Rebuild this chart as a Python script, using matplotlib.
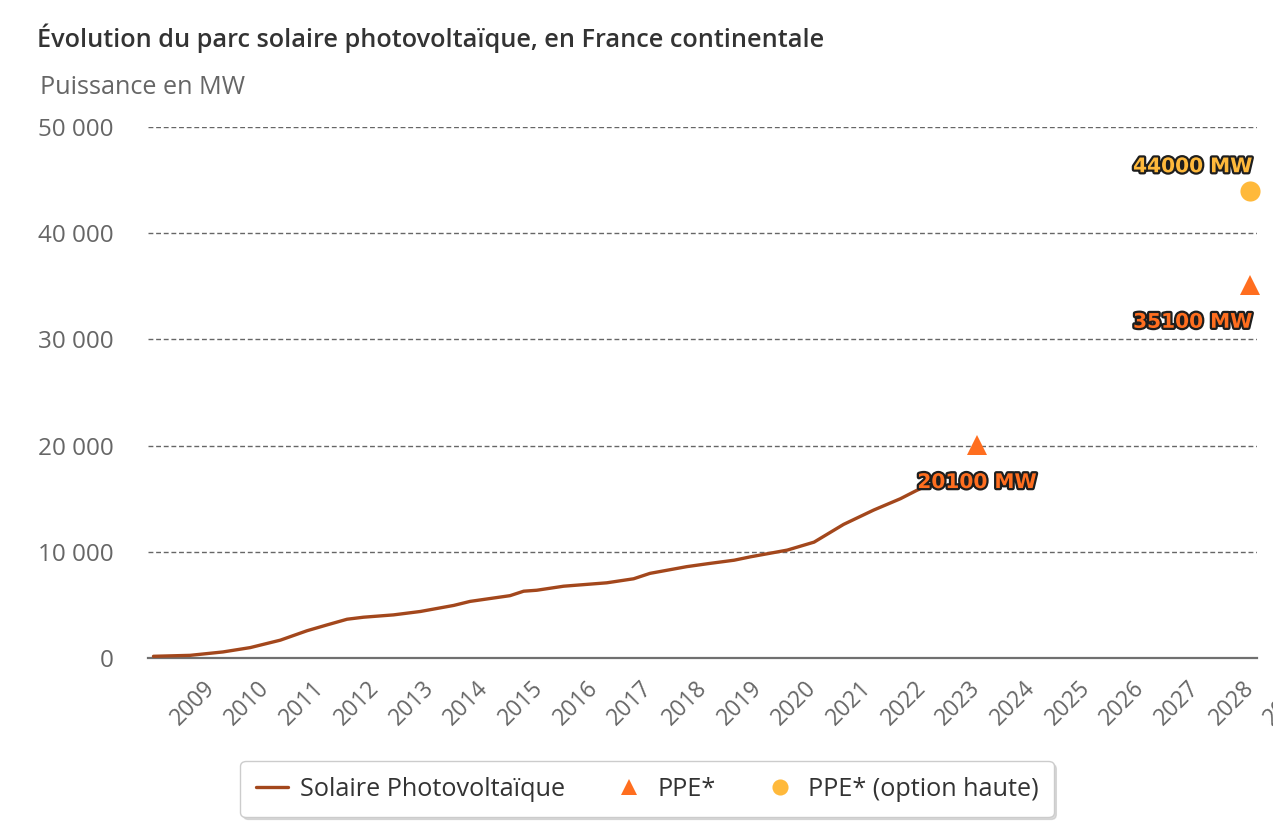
import matplotlib
matplotlib.use("Agg")
import matplotlib.pyplot as plt
import matplotlib.patheffects as pe
import numpy as np

# ---------------- data ----------------
pv_years = [2007.94, 2008.61, 2009.21, 2009.71, 2010.26, 2010.75, 2011.11, 2011.48,
            2011.78, 2012.33, 2012.82, 2013.43, 2013.73, 2014.46, 2014.71, 2014.95,
            2015.44, 2016.23, 2016.72, 2017.02, 2017.69, 2018.09, 2018.56, 2018.86,
            2019.53, 2020.02, 2020.56, 2021.11, 2021.60, 2021.90, 2022.05]
pv_values = [160, 250, 570, 980, 1680, 2570, 3110, 3650,
             3840, 4060, 4380, 4950, 5330, 5870, 6290, 6380,
             6760, 7080, 7460, 7970, 8600, 8890, 9210, 9530,
             10160, 10910, 12580, 13930, 15000, 15790, 16150]

ppe_years = [2023, 2028]
ppe_values = [20100, 35100]
ppe_haute_years = [2028]
ppe_haute_values = [44000]

tick_years = list(range(2009, 2029))
y_ticks = [0, 10000, 20000, 30000, 40000, 50000]
y_tick_labels = ["0", "10 000", "20 000", "30 000", "40 000", "50 000"]

title = "Évolution du parc solaire photovoltaïque, en France continentale"
y_title = "Puissance en MW"
legend_labels = ["Solaire Photovoltaïque", "PPE*", "PPE* (option haute)"]

# ---------------- style ----------------
C_LINE = "#A3471C"
C_TRI = "#FF6E1F"
C_CIRC = "#FFB93B"
C_GRID = "#666666"
C_TXT = "#666666"

W, H = 1273, 831
fig = plt.figure(figsize=(W / 100, H / 100), dpi=100)
ax = fig.add_axes([148 / W, 1 - 658 / H, (1257 - 148) / W, (658 - 127) / H])

ax.set_xlim(2007.84, 2028.12)
ax.set_ylim(0, 50000)

for s in ["top", "right", "left"]:
    ax.spines[s].set_visible(False)
ax.spines["bottom"].set_color("#707070")
ax.spines["bottom"].set_linewidth(1.6)

ax.set_yticks(y_ticks)
ax.set_yticklabels(y_tick_labels, fontfamily="Open Sans", fontsize=17.5, color=C_TXT)
ax.tick_params(axis="y", length=0, pad=24.5)
for t in y_ticks[1:]:
    ax.axhline(t, color=C_GRID, linestyle=(0, (3.5, 2)), linewidth=1.0, zorder=0)

XT_SIZE = 16.5
XT_PAD = 19
ax.set_xticks(tick_years)
ax.set_xticklabels([str(y) for y in tick_years], fontfamily="Open Sans", fontsize=XT_SIZE,
                   color=C_TXT)
ax.tick_params(axis="x", length=0, pad=XT_PAD)
for lab in ax.get_xticklabels():
    lab.set_rotation(45)
    lab.set_ha("right")
    lab.set_va("center")
    lab.set_rotation_mode("anchor")
# partially visible 2029 label at the right edge (cut by the image border as in the original)
ax.annotate("2029", xy=(2029, 0), xycoords=("data", "axes fraction"),
            xytext=(0, -XT_PAD * 100 / 72), textcoords="offset pixels",
            rotation=45, ha="right", va="center", rotation_mode="anchor",
            fontfamily="Open Sans", fontsize=XT_SIZE, color=C_TXT, annotation_clip=False)

# series
l1, = ax.plot(pv_years, pv_values, color=C_LINE, linewidth=2.4, solid_capstyle="round",
              zorder=3, label=legend_labels[0])
l2, = ax.plot(ppe_years, ppe_values, linestyle="none", marker="^", markersize=15,
              color=C_TRI, markeredgewidth=0, zorder=4, label=legend_labels[1], clip_on=False)
l3, = ax.plot(ppe_haute_years, ppe_haute_values, linestyle="none", marker="o",
              markersize=14.5, color=C_CIRC, markeredgewidth=0, zorder=4,
              label=legend_labels[2], clip_on=False)

stroke = [pe.withStroke(linewidth=3.2, foreground="#1e1e1e")]
lab_kw = dict(fontfamily="DejaVu Sans", fontweight="bold", fontsize=14.5,
              textcoords="offset pixels", path_effects=stroke, zorder=6,
              annotation_clip=False)
# 20100 MW under triangle 2023
ax.annotate(f"{ppe_values[0]} MW", xy=(ppe_years[0], ppe_values[0]), xytext=(0, -38),
            ha="center", va="center", color=C_TRI, **lab_kw)
# 35100 MW under triangle 2028
ax.annotate(f"{ppe_values[1]} MW", xy=(ppe_years[1], ppe_values[1]), xytext=(2, -37),
            ha="right", va="center", color=C_TRI, **lab_kw)
# 44000 MW above circle 2028
ax.annotate(f"{ppe_haute_values[0]} MW", xy=(ppe_haute_years[0], ppe_haute_values[0]),
            xytext=(2, 24), ha="right", va="center", color=C_CIRC, **lab_kw)

# titles
fig.text(37 / W, 1 - 38 / H, title, fontfamily="Open Sans", fontweight="semibold",
         fontsize=18.2, color="#333333", ha="left", va="center")
fig.text(40 / W, 1 - 88 / H, y_title, fontfamily="Open Sans", fontsize=18.2,
         color=C_TXT, ha="left", va="center")

# legend
leg = fig.legend(handles=[l1, l2, l3], labels=legend_labels, loc="center",
                 bbox_to_anchor=(647 / W, 1 - 789 / H), ncol=3, frameon=True,
                 fancybox=True, prop={"family": "Open Sans", "size": 18.2},
                 handlelength=1.3, handletextpad=0.45, columnspacing=1.9,
                 borderpad=0.6, markerscale=0.8,
                 shadow={"ox": 2, "oy": -2, "color": "#bbbbbb", "alpha": 0.5})
leg.get_frame().set_edgecolor("#cccccc")
leg.get_frame().set_linewidth(1.0)
for t in leg.get_texts():
    t.set_color("#333333")

fig.savefig("out.png", dpi=100, facecolor="white")
